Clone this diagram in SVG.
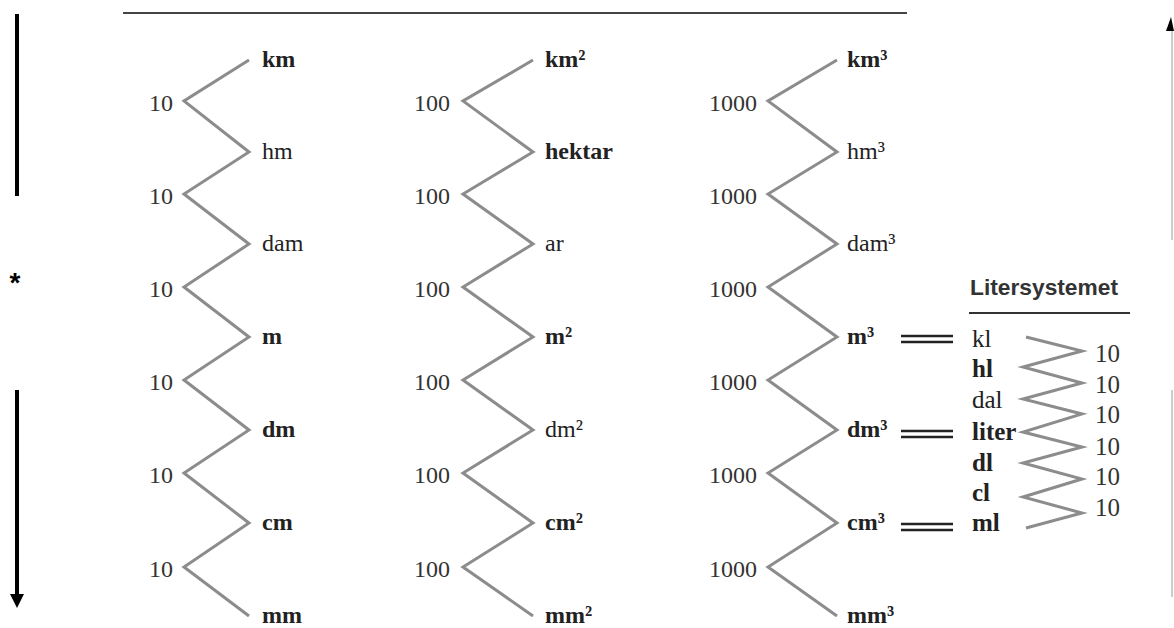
<svg xmlns="http://www.w3.org/2000/svg" width="1174" height="628" viewBox="0 0 1174 628">
<style>
.u{font-family:"Liberation Serif","Times New Roman",serif;font-size:24px;fill:#222}
.b{font-weight:bold}
.n{font-family:"Liberation Serif","Times New Roman",serif;font-size:24px;fill:#333;text-anchor:end}
.l{font-family:"Liberation Serif","Times New Roman",serif;font-size:25px;fill:#222}
.ln{font-family:"Liberation Serif","Times New Roman",serif;font-size:25px;fill:#333}
.zz{fill:none;stroke:#8c8c8c;stroke-width:3;stroke-linejoin:miter}
.eq{stroke:#222;stroke-width:2.5}
</style>
<defs>
<marker id="head" viewBox="0 0 10 10" refX="0" refY="5" markerUnits="userSpaceOnUse" markerWidth="14" markerHeight="14" orient="auto"><path d="M0,0 L10,5 L0,10 z" fill="#000"/></marker>
</defs>
<rect width="1174" height="628" fill="#fff"/>

<g id="frame">
<line x1="123" y1="13" x2="907" y2="13" stroke="#444" stroke-width="2"/>
<line x1="17" y1="14" x2="17" y2="196" stroke="#000" stroke-width="4"/>
<text x="15" y="292" font-family="Liberation Sans, Arial, sans-serif" font-size="28" font-weight="bold" text-anchor="middle" fill="#000">*</text>
<line x1="17" y1="390" x2="17" y2="594" stroke="#000" stroke-width="4" marker-end="url(#head)"/>
<line x1="1172" y1="240" x2="1172" y2="30" stroke="#bbb" stroke-width="1.5"/>
<polygon points="1166,31 1174,31 1171,17" fill="#000"/>
<line x1="1172" y1="390" x2="1172" y2="597" stroke="#bbb" stroke-width="1.5"/>
</g>

<g id="connectors">
<polyline class="zz" points="249,60 184,101 249,152 184,194 249,244 184,287 249,337 184,380 249,430 184,473 249,523 184,567 249,616"/>
<polyline class="zz" points="533,60 463,101 533,152 463,194 533,244 463,287 533,337 463,380 533,430 463,473 533,523 463,567 533,616"/>
<polyline class="zz" points="837,60 768,101 837,152 768,194 837,244 768,287 837,337 768,380 837,430 768,473 837,523 768,567 837,616"/>
<polyline class="zz" points="1026,337 1082,351 1023,367 1082,383 1023,399 1082,414 1023,432 1082,447 1023,463 1082,479 1023,497 1082,513 1026,528"/>
<g id="eq-m3"><line class="eq" x1="901" y1="336" x2="953" y2="336"/><line class="eq" x1="901" y1="342" x2="953" y2="342"/></g>
<g id="eq-dm3"><line class="eq" x1="901" y1="431" x2="953" y2="431"/><line class="eq" x1="901" y1="437" x2="953" y2="437"/></g>
<g id="eq-cm3"><line class="eq" x1="901" y1="524" x2="953" y2="524"/><line class="eq" x1="901" y1="530" x2="953" y2="530"/></g>
</g>

<g id="col-length">
<g id="km"><text class="u b" x="262" y="67">km</text></g>
<g id="hm"><text class="u" x="262" y="159">hm</text></g>
<g id="dam"><text class="u" x="262" y="251">dam</text></g>
<g id="m"><text class="u b" x="262" y="344">m</text></g>
<g id="dm"><text class="u b" x="262" y="437">dm</text></g>
<g id="cm"><text class="u b" x="262" y="530">cm</text></g>
<g id="mm"><text class="u b" x="262" y="623">mm</text></g>
<g id="f-length">
<text class="n" x="173" y="111">10</text>
<text class="n" x="173" y="204">10</text>
<text class="n" x="173" y="297">10</text>
<text class="n" x="173" y="390">10</text>
<text class="n" x="173" y="483">10</text>
<text class="n" x="173" y="577">10</text>
</g>
</g>

<g id="col-area">
<g id="km2"><text class="u b" x="545" y="67">km²</text></g>
<g id="hektar"><text class="u b" x="545" y="159">hektar</text></g>
<g id="ar"><text class="u" x="545" y="251">ar</text></g>
<g id="m2"><text class="u b" x="545" y="344">m²</text></g>
<g id="dm2"><text class="u" x="545" y="437">dm²</text></g>
<g id="cm2"><text class="u b" x="545" y="530">cm²</text></g>
<g id="mm2"><text class="u b" x="545" y="623">mm²</text></g>
<g id="f-area">
<text class="n" x="450" y="111">100</text>
<text class="n" x="450" y="204">100</text>
<text class="n" x="450" y="297">100</text>
<text class="n" x="450" y="390">100</text>
<text class="n" x="450" y="483">100</text>
<text class="n" x="450" y="577">100</text>
</g>
</g>

<g id="col-volume">
<g id="km3"><text class="u b" x="847" y="67">km³</text></g>
<g id="hm3"><text class="u" x="847" y="159">hm³</text></g>
<g id="dam3"><text class="u" x="847" y="251">dam³</text></g>
<g id="m3"><text class="u b" x="847" y="344">m³</text></g>
<g id="dm3"><text class="u b" x="847" y="437">dm³</text></g>
<g id="cm3"><text class="u b" x="847" y="530">cm³</text></g>
<g id="mm3"><text class="u b" x="847" y="623">mm³</text></g>
<g id="f-volume">
<text class="n" x="757" y="111">1000</text>
<text class="n" x="757" y="204">1000</text>
<text class="n" x="757" y="297">1000</text>
<text class="n" x="757" y="390">1000</text>
<text class="n" x="757" y="483">1000</text>
<text class="n" x="757" y="577">1000</text>
</g>
</g>

<g id="litersystemet">
<text x="970" y="295" font-family="Liberation Sans, Arial, sans-serif" font-size="22" font-weight="bold" fill="#333" textLength="148" lengthAdjust="spacingAndGlyphs">Litersystemet</text>
<line x1="969" y1="313" x2="1130" y2="313" stroke="#333" stroke-width="2"/>
<g id="kl"><text class="l" x="972" y="347">kl</text></g>
<g id="hl"><text class="l b" x="972" y="377">hl</text></g>
<g id="dal"><text class="l" x="972" y="408">dal</text></g>
<g id="liter"><text class="l b" x="972" y="440">liter</text></g>
<g id="dl"><text class="l b" x="972" y="471">dl</text></g>
<g id="cl"><text class="l b" x="972" y="501">cl</text></g>
<g id="ml"><text class="l b" x="972" y="531">ml</text></g>
<g id="f-liter">
<text class="ln" x="1095" y="362">10</text>
<text class="ln" x="1095" y="393">10</text>
<text class="ln" x="1095" y="423">10</text>
<text class="ln" x="1095" y="455">10</text>
<text class="ln" x="1095" y="485">10</text>
<text class="ln" x="1095" y="516">10</text>
</g>
</g>
</svg>
